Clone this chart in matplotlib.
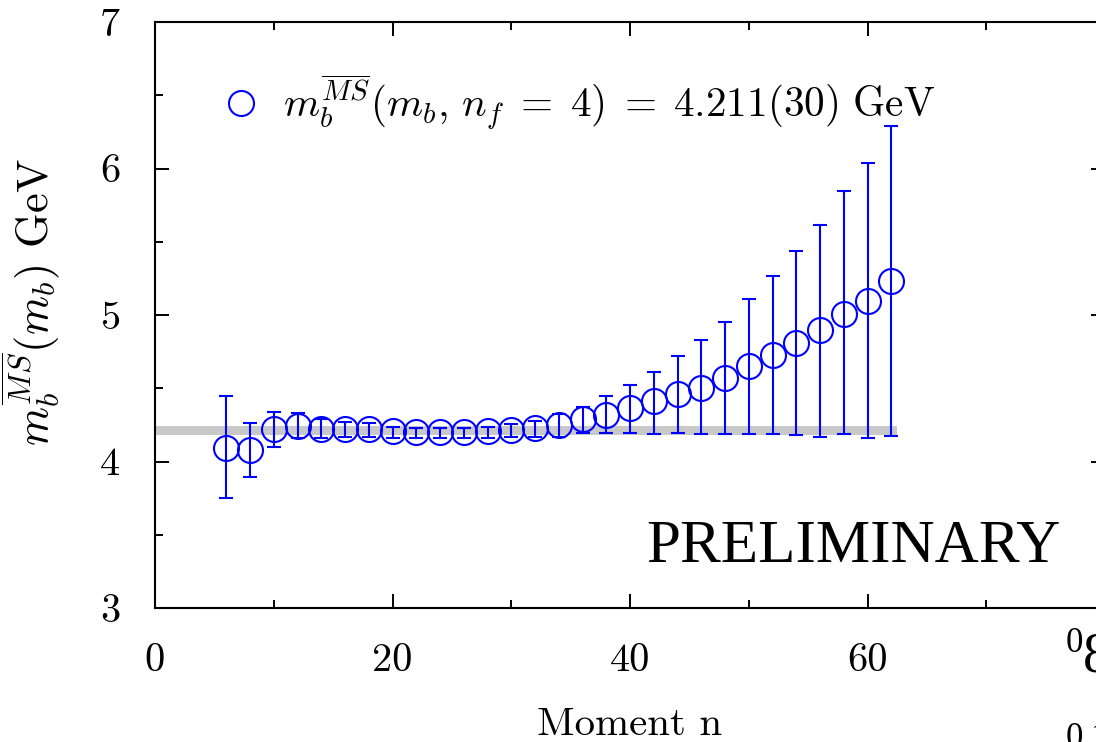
import matplotlib
matplotlib.use("Agg")
import matplotlib.pyplot as plt
from matplotlib.ticker import MultipleLocator

plt.rcParams['font.family'] = 'serif'
plt.rcParams['font.serif'] = ['cmr10']
plt.rcParams['mathtext.fontset'] = 'cm'
plt.rcParams['axes.formatter.use_mathtext'] = True

# b-quark mass from each moment n, with upper/lower ends of the error bars
moment_n = [6, 8, 10, 12, 14, 16, 18, 20, 22, 24, 26, 28, 30, 32, 34,
            36, 38, 40, 42, 44, 46, 48, 50, 52, 54, 56, 58, 60, 62]
mass = [4.09, 4.08, 4.22, 4.24, 4.225, 4.225, 4.22, 4.21, 4.20, 4.198,
        4.198, 4.205, 4.215, 4.226, 4.25, 4.288, 4.318, 4.365, 4.41, 4.46,
        4.505, 4.57, 4.65, 4.73, 4.81, 4.90, 5.01, 5.095, 5.235]
mass_hi = [4.45, 4.265, 4.34, 4.33, 4.29, 4.27, 4.26, 4.238, 4.226, 4.226,
           4.226, 4.238, 4.254, 4.277, 4.322, 4.375, 4.447, 4.522, 4.613,
           4.72, 4.829, 4.954, 5.107, 5.266, 5.439, 5.614, 5.848, 6.035, 6.292]
mass_lo = [3.75, 3.895, 4.10, 4.16, 4.16, 4.17, 4.17, 4.163, 4.158, 4.158,
           4.163, 4.163, 4.17, 4.17, 4.17, 4.193, 4.195, 4.195, 4.19, 4.195,
           4.19, 4.19, 4.19, 4.19, 4.181, 4.17, 4.19, 4.158, 4.174]

# final result 4.211(30) GeV, shown as a band
mb_final = 4.211
mb_final_err = 0.030
band_x = [0, 62.5]

x_ticks = [0, 20, 40, 60, 80]
x_ticklabels = ['0', '20', '40', '60', '']

err_lo = [m - lo for m, lo in zip(mass, mass_lo)]
err_hi = [hi - m for m, hi in zip(mass, mass_hi)]

fig = plt.figure(figsize=(10.96, 7.42), dpi=100)
ax = fig.add_axes([155 / 1096, 134 / 742, 950 / 1096, 586 / 742])

ax.fill_between(band_x, mb_final - mb_final_err, mb_final + mb_final_err,
                color='#c8c8c8', lw=0, zorder=1)

eb = ax.errorbar(moment_n, mass, yerr=[err_lo, err_hi], fmt='o', ms=18,
                 mfc='none', mec='#0000ff', mew=1.5, ecolor='#0000ff',
                 elinewidth=1.5, capsize=5, capthick=1.5, zorder=3)

ax.legend([eb.lines[0]],
          [r'$m_b^{\overline{MS}}(m_b,\, n_f\; =\; 4)\; =\; 4.211(30)\ \mathrm{GeV}$'],
          loc='center left', bbox_to_anchor=(0.0684, 0.8635), frameon=False,
          fontsize=29.7, handlelength=1.0, handletextpad=0.52,
          borderpad=0, borderaxespad=0)

ax.text(41.4, 3.314, 'PRELIMINARY', fontsize=44, family='Liberation Serif',
        va='baseline', ha='left')

ax.set_xlim(0, 80)
ax.set_ylim(3, 7)
ax.set_xticks(x_ticks, x_ticklabels)
ax.xaxis.set_minor_locator(MultipleLocator(10))
ax.yaxis.set_major_locator(MultipleLocator(1))
ax.yaxis.set_minor_locator(MultipleLocator(0.5))
ax.tick_params(which='both', direction='in', top=True, right=True, width=1.4,
               labelsize=29)
ax.tick_params(which='major', length=10)
ax.tick_params(which='minor', length=6)
ax.tick_params(axis='x', pad=25)
ax.tick_params(axis='y', pad=25)
for s in ax.spines.values():
    s.set_linewidth(1.5)

ax.set_xlabel('Moment n', fontsize=29.5)
ax.xaxis.set_label_coords(0.5, -0.170)
ax.set_ylabel(r'$m_b^{\overline{MS}}(m_b)$ GeV', fontsize=32)
ax.yaxis.set_label_coords(-0.098, 0.522)

# stray labels at the lower right edge
fig.text(1066 / 1096, 1 - 652 / 742, '0', fontsize=25,
         family='Liberation Serif', va='baseline', ha='left')
fig.text(1083 / 1096, 1 - 672 / 742, '8', fontsize=40,
         family='Liberation Serif', va='baseline', ha='left')
fig.text(1066 / 1096, 1 - 747 / 742, '0.1', fontsize=25,
         family='Liberation Serif', va='baseline', ha='left')

fig.savefig('out.png', dpi=100)
